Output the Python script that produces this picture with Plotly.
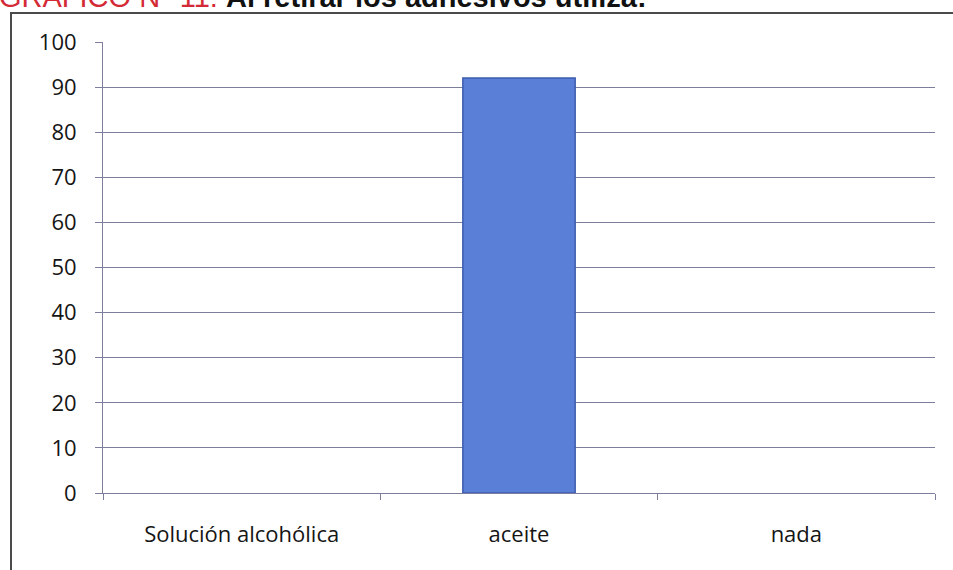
import plotly.graph_objects as go

# Survey answers: what is used to remove the adhesives (percent)
categories = ["Solución alcohólica", "aceite", "nada"]
percentages = [0, 92, 0]
y_ticks = [0, 10, 20, 30, 40, 50, 60, 70, 80, 90, 100]

title_red = "GRÁFICO N° 11:"
title_black = "Al retirar los adhesivos utiliza:"

W, H = 953, 570
L, R, T, B = 103, 18, 42, 77
plot_w = W - L - R
plot_h = H - T - B


def px_x(p):
    return (p - L) / plot_w


def px_y(p):
    return (H - B - p) / plot_h


grid_col = "#7c7e9c"
x_font = dict(family="Open Sans, Noto Sans, sans-serif", size=22, color="#151515")
y_font = dict(family="Open Sans, Noto Sans, sans-serif", size=22, color="#151515")

# outline only on non-empty bars so zero values leave no mark
outline_widths = [1.5 if v > 0 else 0 for v in percentages]

fig = go.Figure(
    go.Bar(
        x=categories,
        y=percentages,
        width=0.405,
        marker=dict(color="#5a7fd6", line=dict(color="#3d5caf", width=outline_widths)),
        hoverinfo="x+y",
    )
)

fig.update_layout(
    width=W,
    height=H,
    margin=dict(l=L, r=R, t=T, b=B),
    paper_bgcolor="white",
    plot_bgcolor="white",
    showlegend=False,
    font=x_font,
    xaxis=dict(
        showline=True,
        linecolor=grid_col,
        linewidth=1,
        ticks="outside",
        tickson="boundaries",
        ticklen=6,
        tickcolor=grid_col,
        showgrid=False,
        ticklabelstandoff=22,
        tickfont=x_font,
    ),
    yaxis=dict(
        range=[0, 100],
        tickvals=y_ticks,
        showline=True,
        linecolor=grid_col,
        linewidth=1,
        ticks="outside",
        ticklen=7,
        tickcolor=grid_col,
        showgrid=True,
        gridcolor=grid_col,
        gridwidth=1,
        zeroline=False,
        ticklabelstandoff=14,
        tickfont=y_font,
    ),
    shapes=[
        dict(
            type="rect",
            xref="paper",
            yref="paper",
            x0=px_x(11),
            x1=px_x(W + 20),
            y0=px_y(H + 20),
            y1=px_y(13),
            line=dict(color="#4a4a4a", width=2),
            fillcolor="rgba(0,0,0,0)",
            layer="below",
        )
    ],
    annotations=[
        dict(
            xref="paper",
            yref="paper",
            x=px_x(-3),
            y=px_y(-3),
            xanchor="left",
            yanchor="middle",
            showarrow=False,
            text=f"<span style='color:#d42a35'>{title_red}</span> <b>{title_black}</b>",
            font=dict(family="Liberation Sans, Arial, sans-serif", size=29, color="#111111"),
        )
    ],
)

fig.write_html("out.html")
